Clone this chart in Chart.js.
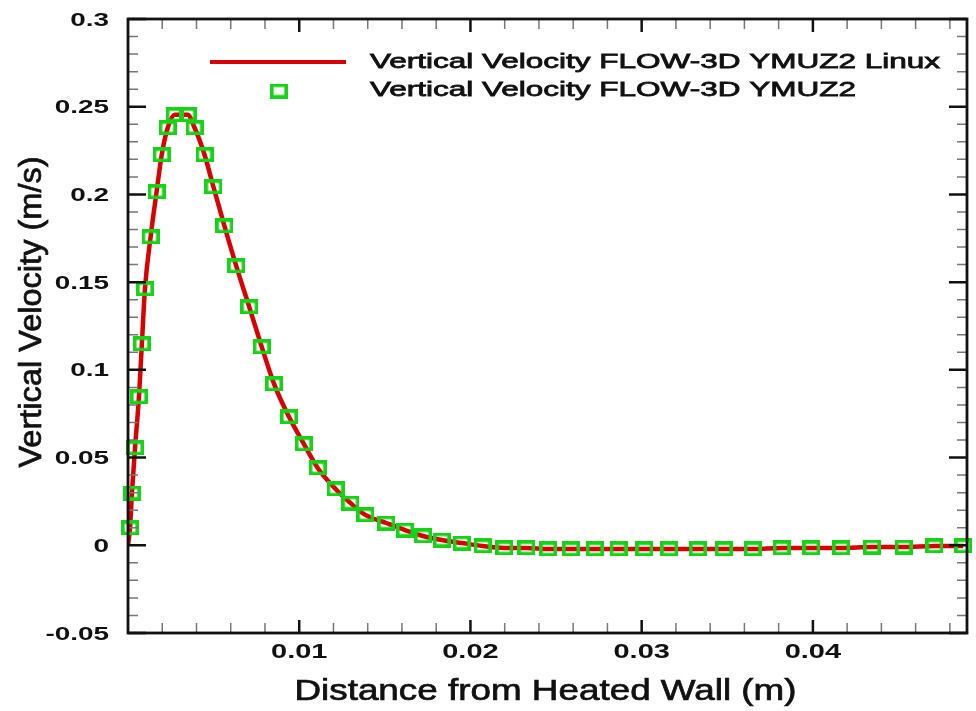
<!DOCTYPE html>
<html>
<head>
<meta charset="utf-8">
<title>Vertical Velocity</title>
<script src="https://cdn.jsdelivr.net/npm/chart.js@4"></script>
<style>
  html, body { margin: 0; padding: 0; background: #fff; }
  canvas { display: block; }
</style>
</head>
<body>
<canvas id="velChart" width="976" height="711"></canvas>
<script>
// ---------------------------
// Data
// ---------------------------
const distance = [0.00012, 0.00023, 0.00041, 0.00064, 0.00081, 0.00099, 0.00132, 0.00167, 0.00197, 0.00232,
    0.00273, 0.00348, 0.00389, 0.00447, 0.00499, 0.00563, 0.00632, 0.00708, 0.00781, 0.00853,
    0.0094, 0.01027, 0.01108, 0.01212, 0.01299, 0.01386, 0.01508, 0.01618, 0.01723, 0.01833,
    0.01949, 0.02071, 0.02198, 0.02326, 0.02454, 0.02587, 0.02726, 0.02865, 0.03016, 0.03161,
    0.03329, 0.0348, 0.03649, 0.03817, 0.03991, 0.04165, 0.04345, 0.0453, 0.0471, 0.04878];
const velocityYmuz2 = [0.0099, 0.0298, 0.0555, 0.0846, 0.1148, 0.1462, 0.1758, 0.2015, 0.2226, 0.238,
    0.2454, 0.2454, 0.238, 0.2226, 0.2043, 0.1821, 0.1593, 0.1359, 0.1131, 0.092,
    0.0732, 0.0578, 0.0441, 0.0321, 0.0241, 0.0173, 0.0127, 0.0087, 0.0053, 0.003,
    0.0013, -0.0004, -0.0015, -0.0015, -0.0021, -0.0021, -0.0021, -0.0021, -0.0021, -0.0021,
    -0.0021, -0.0021, -0.0021, -0.0015, -0.0015, -0.0015, -0.001, -0.001, -0.0004, -0.0004];

// the Linux run starts at the wall and then sits on the same curve
const linuxDistance = [0, 0.00012, 0.00023, 0.00041, 0.00064, 0.00081, 0.00099, 0.00132, 0.00167, 0.00197, 0.00232,
    0.00273, 0.00348, 0.00389, 0.00447, 0.00499, 0.00563, 0.00632, 0.00708, 0.00781, 0.00853,
    0.0094, 0.01027, 0.01108, 0.01212, 0.01299, 0.01386, 0.01508, 0.01618, 0.01723, 0.01833,
    0.01949, 0.02071, 0.02198, 0.02326, 0.02454, 0.02587, 0.02726, 0.02865, 0.03016, 0.03161,
    0.03329, 0.0348, 0.03649, 0.03817, 0.03991, 0.04165, 0.04345, 0.0453, 0.0471, 0.04878];
const velocityLinux = [0, 0.0099, 0.0298, 0.0555, 0.0846, 0.1148, 0.1462, 0.1758, 0.2015, 0.2226, 0.238,
    0.2454, 0.2454, 0.238, 0.2226, 0.2043, 0.1821, 0.1593, 0.1359, 0.1131, 0.092,
    0.0732, 0.0578, 0.0441, 0.0321, 0.0241, 0.0173, 0.0127, 0.0087, 0.0053, 0.003,
    0.0013, -0.0004, -0.0015, -0.0015, -0.0021, -0.0021, -0.0021, -0.0021, -0.0021, -0.0021,
    -0.0021, -0.0021, -0.0021, -0.0015, -0.0015, -0.0015, -0.001, -0.001, -0.0004, -0.0004];

const xTicks = [0.01, 0.02, 0.03, 0.04];
const xTickLabels = ["0.01", "0.02", "0.03", "0.04"];
const yTicks = [-0.05, 0, 0.05, 0.1, 0.15, 0.2, 0.25, 0.3];
const yTickLabels = ["-0.05", "0", "0.05", "0.1", "0.15", "0.2", "0.25", "0.3"];

const LINE_LABEL = "Vertical Velocity FLOW-3D YMUZ2 Linux";
const MARKER_LABEL = "Vertical Velocity FLOW-3D YMUZ2";
const X_TITLE = "Distance from Heated Wall (m)";
const Y_TITLE = "Vertical Velocity (m/s)";

const RED = "#d80000";
const GREEN = "#17d317";
const INK = "#111";
const FONT = "'Liberation Sans', Arial, sans-serif";

// ---------------------------
// Hollow green box marker
// ---------------------------
function makeBox() {
    const c = document.createElement("canvas");
    c.width = 18;
    c.height = 15;
    const g = c.getContext("2d");
    g.strokeStyle = GREEN;
    g.lineWidth = 3.6;
    g.strokeRect(1.8, 1.8, 14.4, 11.4);
    return c;
}
const boxMarker = makeBox();

// text stretched sideways like the original export; heavy adds a thin outline
function wideText(ctx, text, x, y, sx, align, heavy) {
    ctx.save();
    ctx.translate(x, y);
    ctx.scale(sx, 1);
    ctx.textAlign = align;
    ctx.textBaseline = "alphabetic";
    ctx.fillText(text, 0, 0);
    if (heavy) {
        ctx.lineWidth = heavy;
        ctx.strokeStyle = ctx.fillStyle;
        ctx.strokeText(text, 0, 0);
    }
    ctx.restore();
}

// ---------------------------
// Frame with inward ticks on all 4 sides
// ---------------------------
const framePlugin = {
    id: "frame",
    afterDatasetsDraw(chart) {
        const { ctx, chartArea: a, scales: { x, y } } = chart;
        ctx.save();

        // minor ticks
        ctx.strokeStyle = "#777";
        ctx.lineWidth = 1.5;
        ctx.beginPath();
        for (let i = 1; i < 25; i++) {
            if (i % 5 === 0) continue;
            const px = x.getPixelForValue(i * 0.002);
            ctx.moveTo(px, a.bottom); ctx.lineTo(px, a.bottom - 10);
            ctx.moveTo(px, a.top); ctx.lineTo(px, a.top + 10);
        }
        for (let i = -4; i < 30; i++) {
            if (i % 5 === 0) continue;
            const py = y.getPixelForValue(i * 0.01);
            ctx.moveTo(a.left, py); ctx.lineTo(a.left + 10, py);
            ctx.moveTo(a.right, py); ctx.lineTo(a.right - 10, py);
        }
        ctx.stroke();

        // major ticks
        ctx.strokeStyle = INK;
        ctx.lineWidth = 2.5;
        ctx.beginPath();
        xTicks.forEach(v => {
            const px = x.getPixelForValue(v);
            ctx.moveTo(px, a.bottom); ctx.lineTo(px, a.bottom - 13);
            ctx.moveTo(px, a.top); ctx.lineTo(px, a.top + 13);
        });
        yTicks.forEach(v => {
            const py = y.getPixelForValue(v);
            ctx.moveTo(a.left, py); ctx.lineTo(a.left + 18, py);
            ctx.moveTo(a.right, py); ctx.lineTo(a.right - 18, py);
        });
        ctx.stroke();

        ctx.lineWidth = 2.8;
        ctx.strokeRect(a.left, a.top, a.right - a.left, a.bottom - a.top);
        ctx.restore();
    },
    afterDraw(chart) {
        const { ctx, chartArea: a, scales: { x, y } } = chart;
        ctx.save();
        ctx.fillStyle = INK;

        // tick labels
        ctx.font = `bold 18px ${FONT}`;
        yTicks.forEach((v, i) => wideText(ctx, yTickLabels[i], 109, y.getPixelForValue(v) + 6.5, 1.55, "right"));
        ctx.font = `bold 21px ${FONT}`;
        xTicks.forEach((v, i) => wideText(ctx, xTickLabels[i], x.getPixelForValue(v), 658, 1.38, "center"));

        // axis titles
        ctx.font = `29px ${FONT}`;
        wideText(ctx, X_TITLE, (a.left + a.right) / 2 - 2, 700, 1.27, "center", 0.7);
        ctx.save();
        ctx.translate(41, 312);
        ctx.rotate(-Math.PI / 2);
        ctx.font = `31px ${FONT}`;
        wideText(ctx, Y_TITLE, 0, 0, 1.05, "center", 0.7);
        ctx.restore();

        // legend
        ctx.strokeStyle = RED;
        ctx.lineWidth = 4;
        ctx.beginPath();
        ctx.moveTo(210, 62); ctx.lineTo(346, 62);
        ctx.stroke();
        ctx.drawImage(boxMarker, 279 - boxMarker.width / 2, 91 - boxMarker.height / 2);
        ctx.font = `21px ${FONT}`;
        wideText(ctx, LINE_LABEL, 370, 68, 1.5, "left", 0.8);
        wideText(ctx, MARKER_LABEL, 370, 96, 1.5, "left", 0.8);
        ctx.restore();
    }
};

// ---------------------------
// Chart
// ---------------------------
const ctx = document.getElementById("velChart").getContext("2d");
const velChart = new Chart(ctx, {
    type: "scatter",
    data: {
        datasets: [
            {
                label: LINE_LABEL,
                data: linuxDistance.map((d, i) => ({ x: d, y: velocityLinux[i] })),
                showLine: true,
                borderColor: RED,
                borderWidth: 4.5,
                pointRadius: 0,
                cubicInterpolationMode: "monotone",
                order: 2
            },
            {
                label: MARKER_LABEL,
                data: distance.map((d, i) => ({ x: d, y: velocityYmuz2[i] })),
                showLine: false,
                pointStyle: boxMarker,
                pointRadius: 8,
                clip: false,
                order: 1
            }
        ]
    },
    options: {
        responsive: false,
        animation: false,
        events: [],
        layout: { padding: { top: 19, right: 4, left: 0, bottom: 0 } },
        plugins: {
            legend: { display: false },
            tooltip: { enabled: false }
        },
        scales: {
            x: {
                type: "linear",
                min: 0,
                max: 0.049,
                grid: { display: false },
                border: { display: false },
                ticks: { display: false },
                afterFit: s => { s.height = 78; }
            },
            y: {
                type: "linear",
                min: -0.05,
                max: 0.3,
                grid: { display: false },
                border: { display: false },
                ticks: { display: false },
                afterFit: s => { s.width = 128; }
            }
        }
    },
    plugins: [framePlugin]
});
</script>
</body>
</html>
